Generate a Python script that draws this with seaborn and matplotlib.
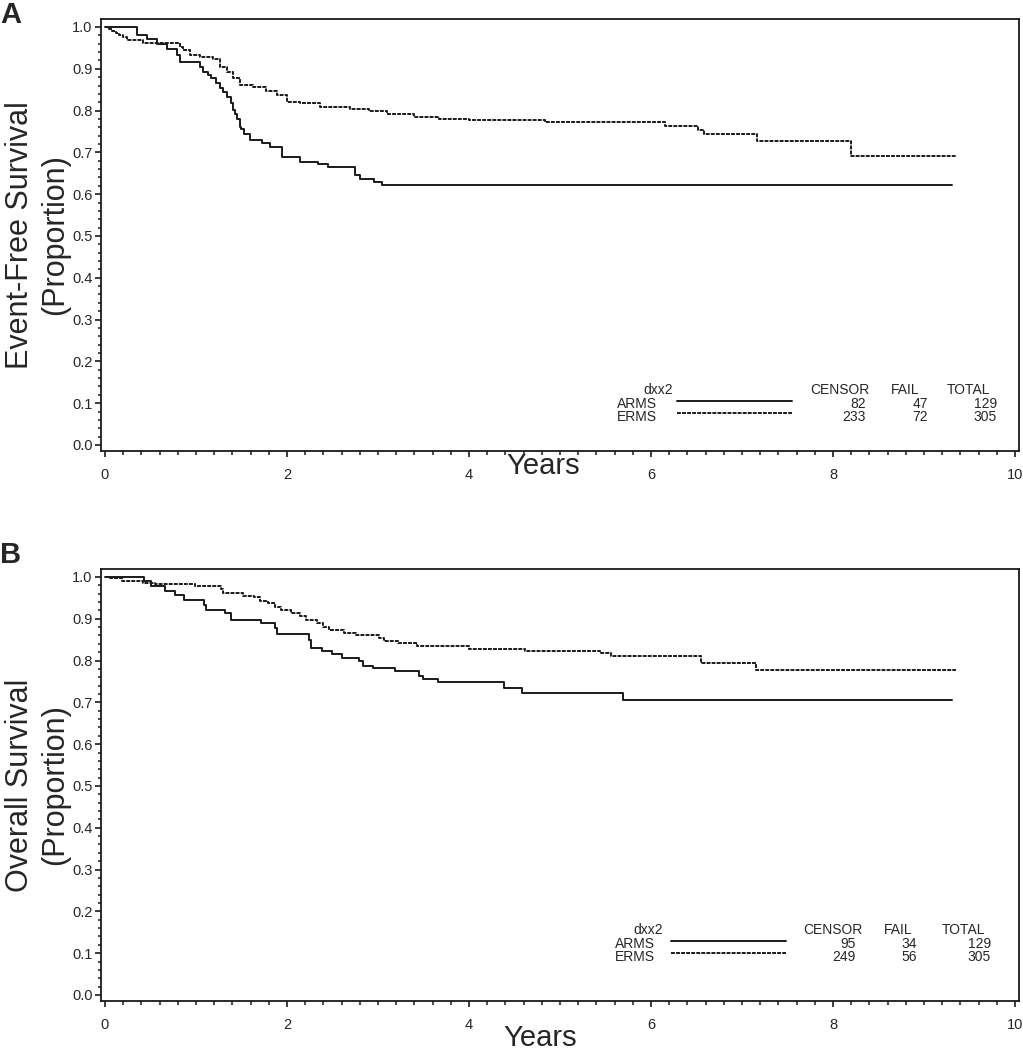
import numpy as np
import pandas as pd
import matplotlib.pyplot as plt
import seaborn as sns
from matplotlib.ticker import MultipleLocator, FormatStrFormatter

# Groups and risk table counts
groups = ['ARMS', 'ERMS']
efs_censor = [82, 233]
efs_fail = [47, 72]
efs_total = [129, 305]
os_censor = [95, 249]
os_fail = [34, 56]
os_total = [129, 305]

# Panel A - event-free survival (step start times in years, proportion)
efs_arms_t = [0, 0.35, 0.46, 0.57, 0.68, 0.79, 0.82, 1.04, 1.08, 1.13, 1.17, 1.22, 1.26,
              1.30, 1.34, 1.38, 1.41, 1.43, 1.45, 1.48, 1.50, 1.53, 1.59, 1.73, 1.81, 1.94,
              2.14, 2.34, 2.45, 2.75, 2.80, 2.96, 3.04, 9.31]
efs_arms_s = [1.0, 0.981, 0.971, 0.959, 0.947, 0.933, 0.917, 0.905, 0.893, 0.885, 0.877, 0.865, 0.853,
              0.845, 0.833, 0.817, 0.801, 0.793, 0.781, 0.761, 0.755, 0.745, 0.730, 0.722, 0.714, 0.689,
              0.678, 0.671, 0.664, 0.645, 0.636, 0.628, 0.622, 0.622]
efs_erms_t = [0, 0.04, 0.08, 0.12, 0.15, 0.20, 0.24, 0.42, 0.82, 0.86, 0.93, 1.04, 1.19, 1.26,
              1.34, 1.41, 1.48, 1.63, 1.77, 1.89, 2.0, 2.14, 2.36, 2.69, 2.9, 3.1, 3.40, 3.67,
              4.0, 4.83, 6.15, 6.52, 6.58, 7.17, 8.2, 9.35]
efs_erms_s = [1.0, 0.995, 0.99, 0.985, 0.98, 0.975, 0.969, 0.962, 0.953, 0.945, 0.933, 0.927, 0.923, 0.905,
              0.893, 0.877, 0.861, 0.856, 0.848, 0.837, 0.821, 0.817, 0.809, 0.804, 0.798, 0.793, 0.785, 0.781,
              0.777, 0.772, 0.763, 0.754, 0.744, 0.728, 0.691, 0.691]

# Panel B - overall survival
os_arms_t = [0, 0.43, 0.51, 0.66, 0.77, 0.87, 1.09, 1.11, 1.32, 1.39, 1.72, 1.87, 1.89, 2.24,
             2.26, 2.39, 2.5, 2.6, 2.79, 2.83, 2.94, 3.19, 3.45, 3.5, 3.66, 4.39, 4.58, 5.69, 9.31]
os_arms_s = [1.0, 0.991, 0.978, 0.967, 0.957, 0.945, 0.932, 0.921, 0.913, 0.897, 0.889, 0.877, 0.864, 0.850,
             0.830, 0.822, 0.815, 0.806, 0.798, 0.788, 0.782, 0.774, 0.764, 0.756, 0.748, 0.734, 0.722, 0.705, 0.705]
os_erms_t = [0, 0.06, 0.19, 0.42, 0.55, 0.99, 1.27, 1.30, 1.52, 1.64, 1.70, 1.79, 1.87, 1.93,
             2.04, 2.14, 2.21, 2.33, 2.40, 2.46, 2.63, 2.76, 3.01, 3.07, 3.22, 3.43, 4.0, 4.62,
             5.44, 5.56, 6.55, 7.15, 9.35]
os_erms_s = [1.0, 0.997, 0.991, 0.986, 0.983, 0.978, 0.971, 0.961, 0.955, 0.951, 0.943, 0.937, 0.929, 0.921,
             0.915, 0.907, 0.897, 0.891, 0.881, 0.874, 0.867, 0.862, 0.854, 0.848, 0.843, 0.834, 0.828, 0.823,
             0.818, 0.811, 0.795, 0.778, 0.778]

sns.set_theme(style='ticks')
plt.rcParams['font.family'] = ['Liberation Sans', 'DejaVu Sans']
INK = '#1a1a1a'
DASH = (2, 0.6)
LW = 1.4


def km_frame(arms_t, arms_s, erms_t, erms_s):
    '''Stack both groups into one long table'''
    a = pd.DataFrame({'time': arms_t, 'surv': arms_s, 'dxx2': 'ARMS'})
    e = pd.DataFrame({'time': erms_t, 'surv': erms_s, 'dxx2': 'ERMS'})
    return pd.concat([a, e], ignore_index=True)


def draw_panel(ax, df, ylabel, censor, fail, total, lay):
    '''Kaplan-Meier steps plus the SAS style table legend'''
    sns.lineplot(data=df, x='time', y='surv', style='dxx2', style_order=groups,
                 dashes={'ARMS': '', 'ERMS': DASH}, color=INK, linewidth=LW,
                 drawstyle='steps-post', estimator=None, sort=False, legend=False, ax=ax)

    # Axes and ticks
    ax.set_xlim(-0.044, 10.044)
    ax.set_ylim(-0.0144, 1.0191)
    ax.xaxis.set_major_locator(MultipleLocator(2))
    ax.xaxis.set_minor_locator(MultipleLocator(0.2))
    ax.yaxis.set_major_locator(MultipleLocator(0.1))
    ax.yaxis.set_minor_locator(MultipleLocator(0.02))
    ax.yaxis.set_major_formatter(FormatStrFormatter('%.1f'))
    ax.tick_params(axis='y', which='major', length=4, width=1.2, pad=2, labelsize=10.5, color=INK)
    ax.tick_params(axis='y', which='minor', length=2.2, width=1.1, color=INK)
    ax.tick_params(axis='x', which='major', length=4.5, width=1.2, pad=8, labelsize=10.5, color=INK)
    ax.tick_params(axis='x', which='minor', length=3, width=1.1, color=INK)
    for sp in ax.spines.values():
        sp.set_visible(True)
        sp.set_linewidth(1.3)
        sp.set_color(INK)

    ax.set_xlabel('Years', fontsize=21)
    ax.xaxis.label.set_va('center')
    ax.xaxis.set_label_coords(lay['xlab'][0], lay['xlab'][1])
    ax.set_ylabel(ylabel, fontsize=22, linespacing=1.2)
    ax.yaxis.set_label_coords(-0.034, 0.5)

    # Table legend
    fs = 10
    ax.text(lay['name_r'], lay['head'], 'dxx2', ha='right', va='center', fontsize=fs, transform=ax.transAxes)
    heads = ['CENSOR', 'FAIL', 'TOTAL']
    for h, xr in zip(heads, lay['head_r']):
        ax.text(xr, lay['head'], h, ha='right', va='center', fontsize=fs, transform=ax.transAxes)
    for i, g in enumerate(groups):
        yr = lay['rows'][i]
        ax.text(lay['grp_l'], yr, g, ha='left', va='center', fontsize=fs, transform=ax.transAxes)
        line, = ax.plot(lay['line'], [lay['lines'][i]] * 2, transform=ax.transAxes, color=INK, lw=LW)
        if g == 'ERMS':
            line.set_dashes(DASH)
        for vals, xr in zip([censor, fail, total], lay['num_r']):
            ax.text(xr, yr, str(vals[i]), ha='right', va='center', fontsize=fs, transform=ax.transAxes)


fig = plt.figure(figsize=(10.23, 10.5), dpi=100)
ax_a = fig.add_axes([0.0987, 0.5705, 0.8974, 0.4114])
ax_b = fig.add_axes([0.0987, 0.0467, 0.8974, 0.4114])

lay_a = {'xlab': (0.4815, -0.035), 'head': 0.141, 'rows': [0.109, 0.079], 'lines': [0.1157, 0.088],
         'name_r': 0.623, 'grp_l': 0.562, 'line': [0.6275, 0.7527],
         'head_r': [0.8366, 0.892, 0.9684], 'num_r': [0.8333, 0.9009, 0.976]}
lay_b = {'xlab': (0.478, -0.086), 'head': 0.164, 'rows': [0.132, 0.102], 'lines': [0.139, 0.111],
         'name_r': 0.6122, 'grp_l': 0.560, 'line': [0.6209, 0.7462],
         'head_r': [0.830, 0.8845, 0.963], 'num_r': [0.8224, 0.8889, 0.9695]}

draw_panel(ax_a, km_frame(efs_arms_t, efs_arms_s, efs_erms_t, efs_erms_s),
           'Event-Free Survival\n(Proportion)', efs_censor, efs_fail, efs_total, lay_a)
draw_panel(ax_b, km_frame(os_arms_t, os_arms_s, os_erms_t, os_erms_s),
           'Overall Survival\n(Proportion)', os_censor, os_fail, os_total, lay_b)

# Panel letters
fig.text(0.0, 1 - 1 / 1050, 'A', fontsize=21, fontweight='bold', ha='left', va='top')
fig.text(0.0, 1 - 541 / 1050, 'B', fontsize=21, fontweight='bold', ha='left', va='top')

fig.savefig('out.png', dpi=100, facecolor='white')
